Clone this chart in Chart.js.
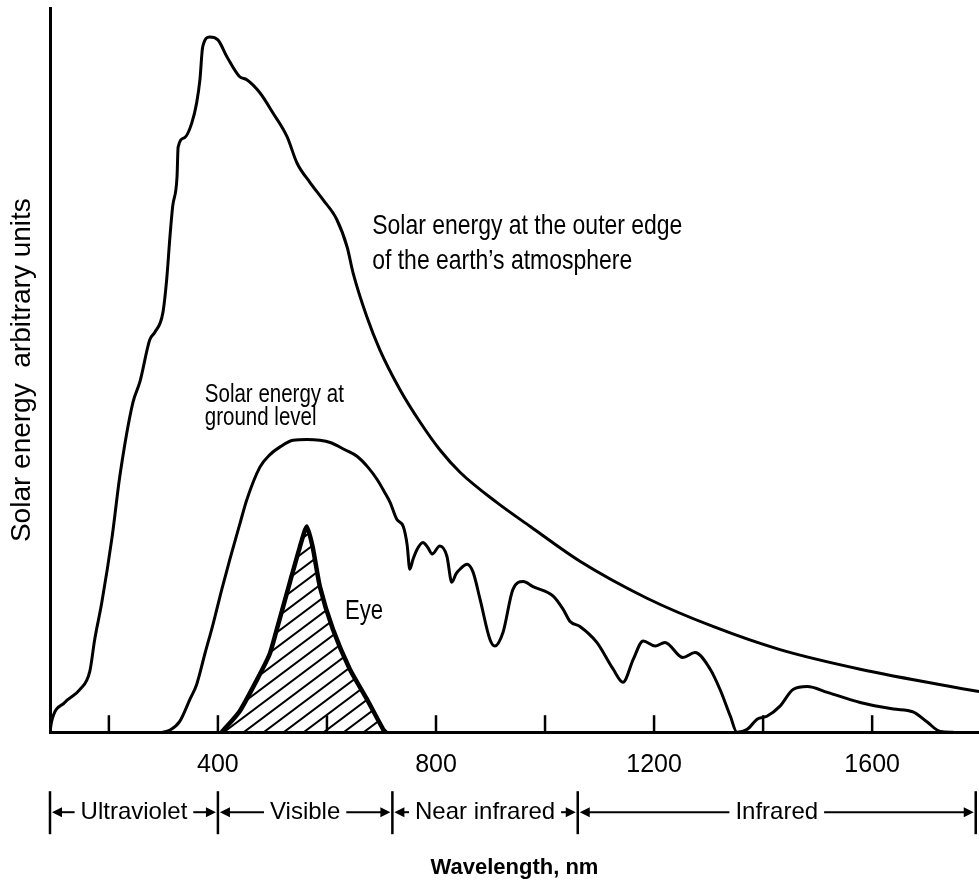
<!DOCTYPE html>
<html><head><meta charset="utf-8">
<script src="https://cdn.jsdelivr.net/npm/chart.js@4.4.1/dist/chart.umd.min.js"></script>
<style>html,body{margin:0;padding:0;background:#fff;}#c{display:block;}</style>
</head><body>
<canvas id="c" width="979" height="881"></canvas>
<script>
// ---- data (wavelength in nm, energy in arbitrary units 0-100) ----
const wavelengthOuter = [92,95,119,147,165,174,187,206,220,244,257,275,284,299,306,312,317,325,327,339,352,361,367,372,385,400,417,440,453,477,501,527,545,569,593,618,637,648,673,697,734,771,807,844,912,973,1064,1187,1308,1431,1578,1796];
const energyOuter = [0,1.5,4.1,5.9,8.4,12.8,17.9,27.0,35.3,45.5,48.4,54.2,55.2,57.9,62.5,68.4,72.6,76.7,80.8,82.1,84.1,86.9,90.1,94.6,96.0,95.6,93.2,90.5,90.1,88.3,85.5,82.2,78.6,75.9,73.5,70.8,67.0,63.4,57.4,52.8,47.3,42.8,39.0,35.9,31.7,28.4,23.6,18.5,14.6,11.4,8.7,5.6];

const wavelengthGround = [299,312,330,349,361,376,391,407,422,440,453,477,495,514,538,563,587,606,633,655,675,692,706,716,728,740,747,752,758,765,776,785,793,807,820,829,837,844,857,868,881,899,908,923,941,960,978,1015,1033,1046,1064,1095,1125,1143,1162,1180,1202,1220,1253,1275,1303,1321,1340,1352,1371,1389,1407,1431,1455,1481,1518,1578,1639,1675,1701,1725,1749];
const energyGround = [0,0.3,1.5,4.6,6.6,10.8,14.9,19.7,23.9,28.7,32.1,36.6,38.3,39.4,40.3,40.4,40.3,40.0,39.0,38.1,36.6,34.9,33.1,31.7,29.4,28.4,25.9,22.5,23.9,25.2,26.2,25.5,24.6,25.7,24.3,20.7,21.9,22.5,23.2,22.1,18.3,12.8,11.9,13.8,19.7,20.8,20.1,18.8,17.0,15.3,14.6,12.4,8.7,6.9,10.1,12.6,11.9,12.4,10.3,11.0,8.7,5.9,2.2,0,0.4,1.8,2.2,3.6,5.9,6.3,5.5,4.1,3.2,2.8,1.4,0.1,0];

const wavelengthEye = [407,440,472,495,508,532,550,563,574,587,611,642,673,703,708];
const energyEye = [0,2.9,7.3,10.8,14.2,20.7,25.5,28.4,25.5,20.1,14.2,8.7,4.6,0.4,0];

const tickValues = [200,400,600,800,1000,1200,1400,1600];
const tickLabels = ['','400','','800','','1200','','1600'];

const regionBounds = [92,400,720,1060,1790];
const regionNames = ['Ultraviolet','Visible','Near infrared','Infrared'];

// ---- styling ----
const FONT = '"Liberation Sans", Arial, sans-serif';
const INK = '#000';

const ctx = document.getElementById('c').getContext('2d');

function hatchPattern(c2d){
  const c = document.createElement('canvas'); c.width = 20; c.height = 15;
  const g = c.getContext('2d');
  g.strokeStyle = INK; g.lineWidth = 2;
  for (let k = -1; k <= 1; k++) { g.beginPath(); g.moveTo(k*20-20, 30); g.lineTo(k*20+40, -15); g.stroke(); }
  return c2d.createPattern(c, 'repeat');
}

const toXY = (xs, ys) => xs.map((x, i) => ({x, y: ys[i]}));

const notes = [
  {lines:['Solar energy at the outer edge','of the earth\u2019s atmosphere'], x:683, y:69.9, size:28, gap:35},
  {lines:['Solar energy at','ground level'], x:376, y:46.5, size:25, gap:23},
  {lines:['Eye'], x:633, y:16.6, size:27, gap:0}
];

const tickMarks = {
  id:'tickMarks',
  afterDatasetsDraw(chart){
    const s = chart.scales.x, c = chart.ctx;
    c.save(); c.strokeStyle = INK; c.lineWidth = 2.5;
    s.ticks.forEach(t => { const px = s.getPixelForValue(t.value); c.beginPath(); c.moveTo(px, s.top); c.lineTo(px, s.top - 17); c.stroke(); });
    c.restore();
  }
};

const annotations = {
  id:'annotations',
  afterDatasetsDraw(chart){
    const {x, y} = chart.scales, c = chart.ctx;
    c.fillStyle = INK;
    notes.forEach(n => {
      const px = x.getPixelForValue(n.x), py = y.getPixelForValue(n.y);
      n.lines.forEach((t, i) => {
        c.save();
        c.font = n.size + 'px ' + FONT; c.textAlign = 'left'; c.textBaseline = 'middle';
        c.translate(px, py + i*n.gap); c.scale(0.82, 1);
        c.fillText(t, 0, 0);
        c.restore();
      });
    });
  }
};

const regions = {
  id:'regions',
  afterDraw(chart){
    const s = chart.scales.x, c = chart.ctx;
    const rowY = chart.chartArea.bottom + 80;
    c.save(); c.strokeStyle = INK; c.fillStyle = INK; c.lineWidth = 2.5;
    c.font = '24px ' + FONT; c.textAlign = 'center'; c.textBaseline = 'middle';
    const bx = regionBounds.map(b => s.getPixelForValue(b));
    bx.forEach(px => { c.beginPath(); c.moveTo(px, rowY - 21); c.lineTo(px, rowY + 22); c.stroke(); });
    const arrow = (tipX, dir) => { c.beginPath(); c.moveTo(tipX, rowY); c.lineTo(tipX - dir*10, rowY - 5); c.lineTo(tipX - dir*10, rowY + 5); c.closePath(); c.fill(); };
    c.lineWidth = 2;
    regionNames.forEach((name, i) => {
      const l = bx[i] + 2, r = bx[i+1] - 2, mid = (l + r) / 2;
      c.fillText(name, mid, rowY);
      const w = c.measureText(name).width;
      arrow(l, -1); arrow(r, 1);
      if (mid - w/2 - 6 > l + 10) { c.beginPath(); c.moveTo(l + 8, rowY); c.lineTo(mid - w/2 - 6, rowY); c.stroke(); }
      if (mid + w/2 + 6 < r - 10) { c.beginPath(); c.moveTo(mid + w/2 + 6, rowY); c.lineTo(r - 8, rowY); c.stroke(); }
    });
    c.restore();
  }
};

new Chart(ctx, {
  type:'line',
  data:{ datasets:[
    { label:'Solar energy at the outer edge of the earth\u2019s atmosphere', data: toXY(wavelengthOuter, energyOuter), borderColor:INK, borderWidth:3, pointRadius:0, fill:false, cubicInterpolationMode:'monotone' },
    { label:'Solar energy at ground level', data: toXY(wavelengthGround, energyGround), borderColor:INK, borderWidth:3, pointRadius:0, fill:false, cubicInterpolationMode:'monotone' },
    { label:'Eye', data: toXY(wavelengthEye, energyEye), borderColor:INK, borderWidth:4.5, pointRadius:0, fill:'origin', backgroundColor: hatchPattern(ctx), tension:0.2 }
  ]},
  options:{
    responsive:false, animation:false, devicePixelRatio:1,
    layout:{ padding:{ left:2.4, top:8, right:0, bottom:0 } },
    plugins:{ legend:{display:false}, tooltip:{enabled:false} },
    scales:{
      x:{ type:'linear', min:92, max:1796,
        afterBuildTicks: sc => { sc.ticks = tickValues.map(v => ({value:v})); },
        ticks:{ autoSkip:false, maxRotation:0, padding:18, color:INK, font:{family:FONT, size:25},
          callback: v => tickLabels[tickValues.indexOf(v)] },
        grid:{ display:false, drawTicks:false },
        border:{ display:true, color:INK, width:3 },
        title:{ display:true, text:'Wavelength, nm', color:INK, font:{family:FONT, size:22, weight:'bold'}, padding:{top:56.4, bottom:0} }
      },
      y:{ min:0, max:100,
        ticks:{ display:false },
        grid:{ display:false, drawTicks:false },
        border:{ display:true, color:INK, width:3 },
        title:{ display:true, text:'Solar energy  arbitrary units', color:INK, font:{family:FONT, size:28}, padding:{top:3, bottom:11} }
      }
    }
  },
  plugins:[tickMarks, annotations, regions]
});
</script>
</body></html>
